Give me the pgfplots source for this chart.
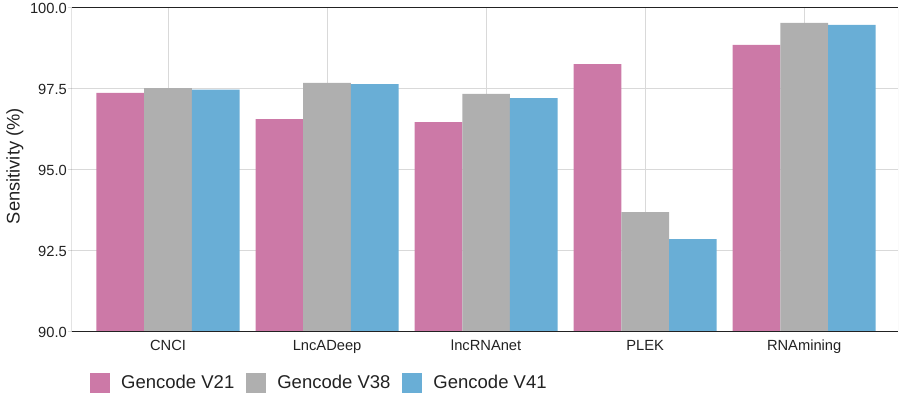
\documentclass[border=0pt]{standalone}
\usepackage{fontspec}
\setmainfont{Liberation Sans}
\usepackage{pgfplots}
\pgfplotsset{compat=1.18}
\definecolor{cVa}{HTML}{CC79A7}
\definecolor{cVb}{HTML}{AFAFAF}
\definecolor{cVc}{HTML}{69AED6}
\definecolor{gridc}{HTML}{D9D9D9}
\definecolor{tickc}{HTML}{222222}
\begin{document}
\begin{tikzpicture}
\begin{axis}[name=ax,
  width=826pt, height=324pt, scale only axis,
  ybar=0pt, bar width=0.3,
  xmin=-0.604, xmax=4.59, ymin=90, ymax=100,
  xtick={0,1,2,3,4},
  xticklabels={CNCI,LncADeep,lncRNAnet,PLEK,RNAmining},
  ytick={90,92.5,95,97.5,100},
  axis line style={draw=none},
  xmajorgrids, ymajorgrids,
  major grid style={line width=1pt, draw=gridc},
  xtick style={draw=none},
  ytick style={draw=gridc, line width=1pt},
  tick align=outside, major tick length=4pt, tick pos=left,
  tick label style={font=\fontsize{14.7}{16}\selectfont, text=tickc},
  /pgf/number format/assume math mode=true,
  yticklabel style={/pgf/number format/.cd, fixed, fixed zerofill, precision=1, /tikz/.cd, inner xsep=1pt},
  xticklabel style={inner ysep=4pt},
  ylabel={Sensitivity (\%)},
  ylabel style={at={(axis description cs:-0.069,0.512)}, anchor=center, rotate=0, font=\fontsize{18.3}{20}\selectfont, text=tickc},
  legend columns=3,
  legend style={at={(axis description cs:0.0218,-0.157)}, anchor=west, draw=none, inner sep=0pt,
    font=\fontsize{18.5}{20}\selectfont, text=tickc, nodes={inner sep=0pt},
    /tikz/every odd column/.append style={column sep=11pt},
    /tikz/every even column/.append style={column sep=12pt}},
  every axis plot/.append style={draw=none, legend image code/.code={\fill[##1] (0pt,-10pt) rectangle (20pt,10pt);}},
]
\addplot[fill=cVa] coordinates {(0,97.38) (1,96.57) (2,96.48) (3,98.27) (4,98.86)};
\addplot[fill=cVb] coordinates {(0,97.53) (1,97.69) (2,97.35) (3,93.70) (4,99.54)};
\addplot[fill=cVc] coordinates {(0,97.48) (1,97.65) (2,97.22) (3,92.87) (4,99.48)};
\legend{Gencode V21, Gencode V38, Gencode V41}
\draw[gridc, line width=1pt] (rel axis cs:1,0) -- (rel axis cs:1,1);
\draw[tickc, line width=1pt] (rel axis cs:0,1) -- (rel axis cs:0,0) -- (rel axis cs:1,0);
\draw[tickc, line width=1pt] (rel axis cs:0,1) -- (rel axis cs:1,1);
\end{axis}
\pgfresetboundingbox
\path ([shift={(-72pt,-66pt)}]ax.south west) rectangle ([shift={(1pt,8pt)}]ax.north east);
\end{tikzpicture}
\end{document}
